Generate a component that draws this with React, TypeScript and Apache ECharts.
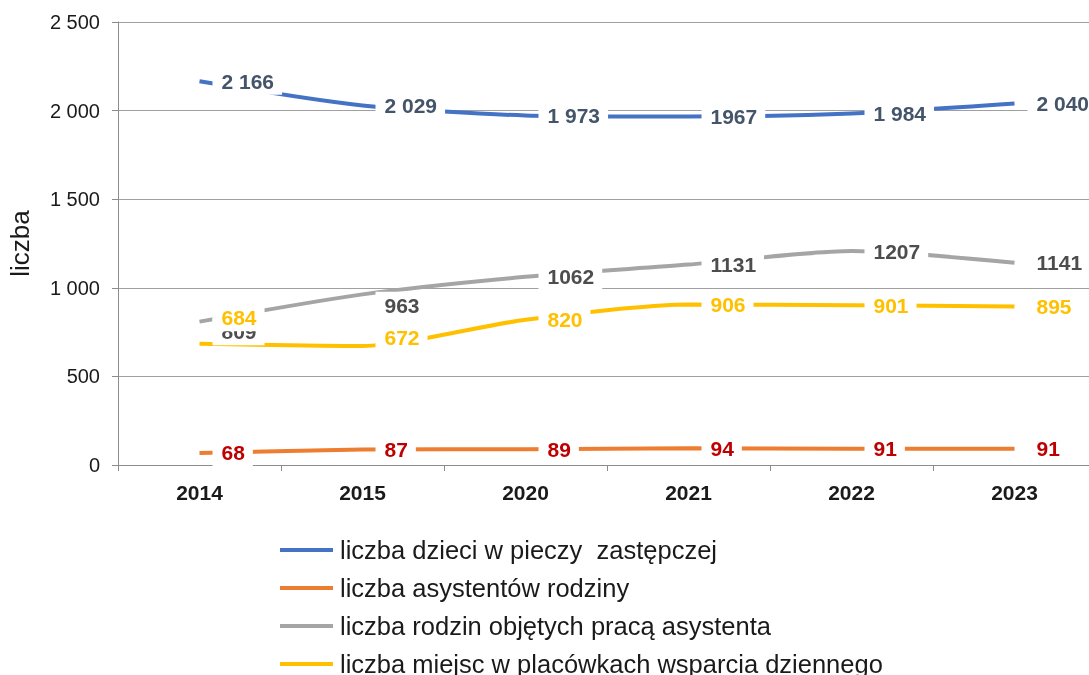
import React, { useEffect, useRef } from "react";
import * as echarts from "echarts";

const categories = ["2014", "2015", "2020", "2021", "2022", "2023"];
const seriesNames = [
  "liczba dzieci w pieczy  zastępczej",
  "liczba asystentów rodziny",
  "liczba rodzin objętych pracą asystenta",
  "liczba miejsc w placówkach wsparcia dziennego",
];
const childrenValues = [2166, 2029, 1973, 1967, 1984, 2040];
const childrenLabels = ["2 166", "2 029", "1 973", "1967", "1 984", "2 040"];
const assistantsValues = [68, 87, 89, 94, 91, 91];
const familiesValues = [809, 963, 1062, 1131, 1207, 1141];
const placesValues = [684, 672, 820, 906, 901, 895];
const yTicks = [0, 500, 1000, 1500, 2000, 2500];

const FONT = "Arial, 'Liberation Sans', sans-serif";

function fmtSpace(v: number): string {
  return String(v).replace(/\B(?=(\d{3})+(?!\d))/g, " ");
}

export default function App() {
  const ref = useRef<HTMLDivElement>(null);
  useEffect(() => {
    if (!ref.current) return;
    const chart = echarts.init(ref.current, undefined, { renderer: "svg" });

    const baseLabel = (color: string) => ({
      show: true,
      position: "right" as const,
      distance: 13,
      color,
      fontSize: 21,
      fontWeight: "bold" as const,
      fontFamily: FONT,
      backgroundColor: "#ffffff",
      padding: [3, 8, 3, 9],
    });

    const mk = (
      name: string,
      values: number[],
      color: string,
      labelColor: string,
      labels: string[] | null,
      offsets: Record<number, [number, number]>
    ) => ({
      name,
      type: "line",
      smooth: 0.25,
      symbol: "circle",
      symbolSize: 0,
      color,
      lineStyle: { color, width: 4 },
      label: {
        ...baseLabel(labelColor),
        formatter: (p: any) => (labels ? labels[p.dataIndex] : String(p.value)),
      },
      data: values.map((v, i) =>
        offsets[i] ? { value: v, label: { offset: offsets[i] } } : v
      ),
    });

    chart.setOption({
      animation: false,
      grid: {
        left: 118,
        top: 22,
        width: 978,
        height: 443,
        containLabel: false,
        outerBoundsMode: "none",
      },
      legend: {
        orient: "vertical",
        left: 280,
        top: 537,
        height: 300,
        padding: 0,
        icon: "rect",
        itemWidth: 53,
        itemHeight: 4,
        itemGap: 12,
        textStyle: { fontSize: 25.5, color: "#1a1a1a", fontFamily: FONT, padding: [0, 0, 0, 2] },
        data: seriesNames,
      },
      xAxis: {
        type: "category",
        data: categories,
        boundaryGap: true,
        axisLine: { lineStyle: { color: "#8c8c8c", width: 1 } },
        axisTick: { show: true, length: 6, alignWithLabel: false, lineStyle: { color: "#8c8c8c" } },
        axisLabel: {
          fontSize: 21,
          fontWeight: "bold",
          color: "#1a1a1a",
          fontFamily: FONT,
          margin: 17,
        },
      },
      yAxis: {
        type: "value",
        min: 0,
        max: 2500,
        interval: 500,
        name: "liczba",
        nameLocation: "middle",
        nameGap: 85,
        nameTextStyle: { fontSize: 26, color: "#1a1a1a", fontFamily: FONT },
        axisLine: { show: true, lineStyle: { color: "#8c8c8c", width: 1 } },
        axisTick: { show: true, length: 6, lineStyle: { color: "#8c8c8c" } },
        axisLabel: {
          fontSize: 20,
          color: "#1a1a1a",
          fontFamily: FONT,
          margin: 18,
          formatter: (v: number) => (yTicks.includes(v) ? fmtSpace(v) : ""),
        },
        splitLine: { show: true, lineStyle: { color: "#a0a0a0", width: 1 } },
      },
      series: [
        mk(seriesNames[0], childrenValues, "#4472C4", "#44546A", childrenLabels, {}),
        mk(seriesNames[1], assistantsValues, "#ED7D31", "#C00000", null, {}),
        mk(seriesNames[2], familiesValues, "#A5A5A5", "#4D4D4D", null, { 0: [0, 10], 1: [0, 11] }),
        mk(seriesNames[3], placesValues, "#FFC000", "#FFC000", null, { 0: [0, -26], 1: [0, -8] }),
      ],
    });
    return () => chart.dispose();
  }, []);
  return (
    <div
      ref={ref}
      style={{ position: "fixed", left: 0, top: 0, width: 1089, height: 675 }}
    />
  );
}
